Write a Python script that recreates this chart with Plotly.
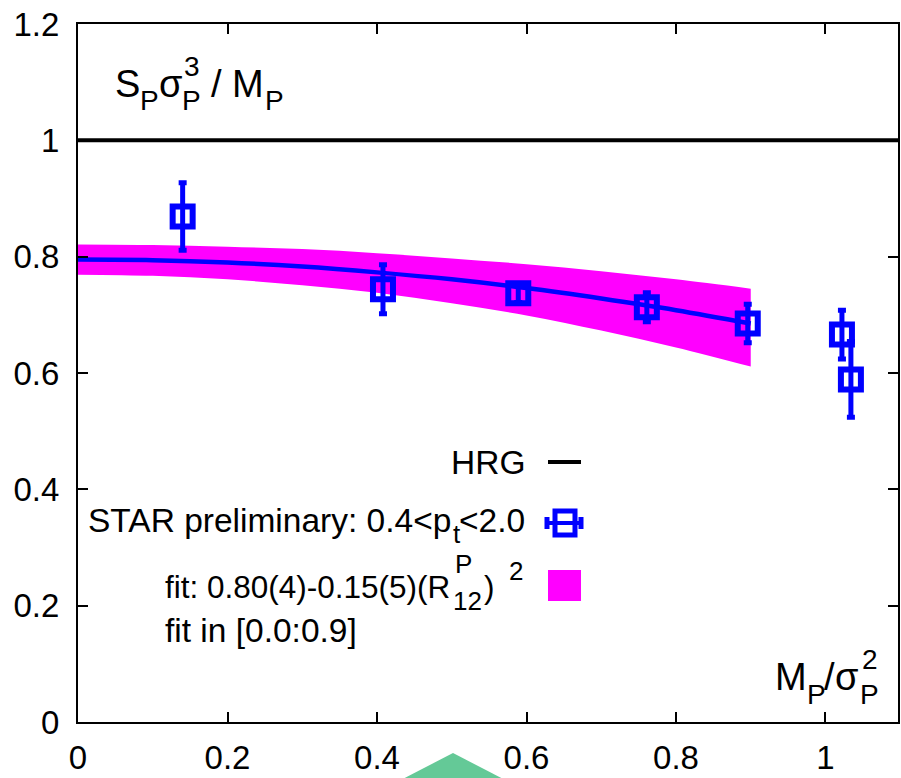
import plotly.graph_objects as go

# ---------------- data ----------------
star_x = [0.140, 0.408, 0.589, 0.761, 0.896, 1.022, 1.034]
star_y = [0.869, 0.744, 0.737, 0.713, 0.685, 0.666, 0.589]
star_err = [0.058, 0.042, 0.016, 0.025, 0.033, 0.042, 0.065]

fit_x = [0.0, 0.1, 0.2, 0.3, 0.4, 0.5, 0.6, 0.7, 0.8, 0.9]
fit_center = [0.795, 0.794, 0.790, 0.783, 0.773, 0.761, 0.746, 0.728, 0.708, 0.685]
fit_upper = [0.821, 0.820, 0.817, 0.813, 0.806, 0.797, 0.787, 0.775, 0.761, 0.745]
fit_lower = [0.769, 0.767, 0.761, 0.751, 0.738, 0.720, 0.699, 0.673, 0.644, 0.611]

hrg_x = [0.0, 1.097]
hrg_y = [1.0, 1.0]

x_ticks = [0, 0.2, 0.4, 0.6, 0.8, 1]
x_tick_text = ["0", "0.2", "0.4", "0.6", "0.8", "1"]
y_ticks = [0, 0.2, 0.4, 0.6, 0.8, 1, 1.2]
y_tick_text = ["0", "0.2", "0.4", "0.6", "0.8", "1", "1.2"]

# ---------------- layout geometry ----------------
W, H = 901, 778
L, R, T, B = 78, 3, 24, 56
PW, PH = W - L - R, H - T - B
FONT = "Liberation Sans, Arial, Helvetica, sans-serif"
BLUE = "#0000ff"
MAGENTA = "#ff00ff"


def px(x):
    return (x - L) / PW


def py(y):
    return (T + PH - y) / PH


fig = go.Figure()

# fit band (lower edge, then upper edge filled down to it)
fig.add_trace(go.Scatter(
    x=fit_x, y=fit_lower, mode="lines",
    line=dict(width=0, color=MAGENTA, shape="spline"),
    hoverinfo="skip", showlegend=False))
fig.add_trace(go.Scatter(
    x=fit_x, y=fit_upper, mode="lines", fill="tonexty", fillcolor=MAGENTA,
    line=dict(width=0, color=MAGENTA, shape="spline"),
    hoverinfo="skip", showlegend=False))

# fit center line
fig.add_trace(go.Scatter(
    x=fit_x, y=fit_center, mode="lines", line=dict(color=BLUE, width=4.5, shape="spline"),
    showlegend=False))

# HRG
fig.add_trace(go.Scatter(
    x=hrg_x, y=hrg_y, mode="lines", line=dict(color="black", width=4),
    showlegend=False))

# STAR data
fig.add_trace(go.Scatter(
    x=star_x, y=star_y, mode="markers",
    marker=dict(symbol="square-open", size=20, color=BLUE, line=dict(color=BLUE, width=6)),
    error_y=dict(type="data", array=star_err, visible=True, color=BLUE, thickness=5, width=4),
    showlegend=False))

annotations = []


def add_text(text, x, baseline, size, anchor="left"):
    yc = baseline - 0.3465 * size
    annotations.append(dict(
        text=text, x=px(x), y=py(yc), xref="paper", yref="paper",
        xanchor=anchor, yanchor="middle", showarrow=False,
        font=dict(family=FONT, size=size, color="black"), borderpad=0))


# title  S_P sigma_P^3 / M_P
TS, SS = 38, 28
add_text("S", 114, 97, TS)
add_text("P", 139, 110, SS)
add_text("σ", 158, 97, TS)
add_text("P", 181, 110, SS)
add_text("3", 183, 76, SS)
add_text("/", 210, 97, TS)
add_text("M", 231, 97, TS)
add_text("P", 264, 110, SS)

# x label  M_P / sigma_P^2
add_text("M", 774, 690, TS)
add_text("P", 806, 704, SS)
add_text("/", 823, 690, TS)
add_text("σ", 834, 690, TS)
add_text("P", 859, 704, SS)
add_text("2", 861, 669, SS)

# legend texts
LS, FS, LSS = 33.5, 31.5, 26
add_text("HRG", 526, 474, LS, "right")
add_text("STAR preliminary: 0.4&lt;p", 452, 532, LS, "right")
add_text("t", 452, 543, LSS)
add_text("&lt;2.0", 526, 532, LS, "right")
add_text("fit: 0.80(4)-0.15(5)(R", 451, 598, FS, "right")
add_text("P", 454, 573, LSS)
add_text("12", 452, 610, LSS)
add_text(")", 483, 598, FS)
add_text("2", 508, 580, LSS)
add_text("fit in [0.0:0.9]", 164, 642, LS)

shapes = []
# legend samples
shapes.append(dict(type="line", xref="paper", yref="paper",
                   x0=px(548), x1=px(581), y0=py(462), y1=py(462),
                   line=dict(color="black", width=4)))
shapes.append(dict(type="line", xref="paper", yref="paper",
                   x0=px(546), x1=px(582), y0=py(523), y1=py(523),
                   line=dict(color=BLUE, width=4)))
for cx in (547, 581):
    shapes.append(dict(type="line", xref="paper", yref="paper",
                       x0=px(cx), x1=px(cx), y0=py(517), y1=py(529),
                       line=dict(color=BLUE, width=5)))
shapes.append(dict(type="rect", xref="paper", yref="paper",
                   x0=px(555), x1=px(575), y0=py(511), y1=py(535),
                   line=dict(color=BLUE, width=5), fillcolor="rgba(0,0,0,0)"))
shapes.append(dict(type="rect", xref="paper", yref="paper",
                   x0=px(548), x1=px(581), y0=py(570), y1=py(601),
                   line=dict(width=0), fillcolor=MAGENTA))

# green triangle at the bottom edge
tri = "M {} {} L {} {} L {} {} Z".format(px(453), py(753), px(395), py(783), px(511), py(783))
shapes.append(dict(type="path", xref="paper", yref="paper", path=tri,
                   fillcolor="#64c997", line=dict(width=0), layer="above"))

axis_common = dict(
    showline=True, linecolor="black", linewidth=2, mirror="ticks",
    ticks="inside", ticklen=10, tickwidth=1.5, tickcolor="black",
    showgrid=False, zeroline=False, automargin=False,
    tickfont=dict(family=FONT, size=33, color="black"),
)

fig.update_layout(
    width=W, height=H,
    margin=dict(l=L, r=R, t=T, b=B, pad=0, autoexpand=False),
    paper_bgcolor="white", plot_bgcolor="white",
    showlegend=False,
    xaxis=dict(range=[0, 1.097], tickvals=x_ticks, ticktext=x_tick_text,
               ticklabelstandoff=5, **axis_common),
    yaxis=dict(range=[0, 1.2], tickvals=y_ticks, ticktext=y_tick_text,
               ticklabelstandoff=10, **axis_common),
    annotations=annotations,
    shapes=shapes,
)

fig.write_html("out.html")
